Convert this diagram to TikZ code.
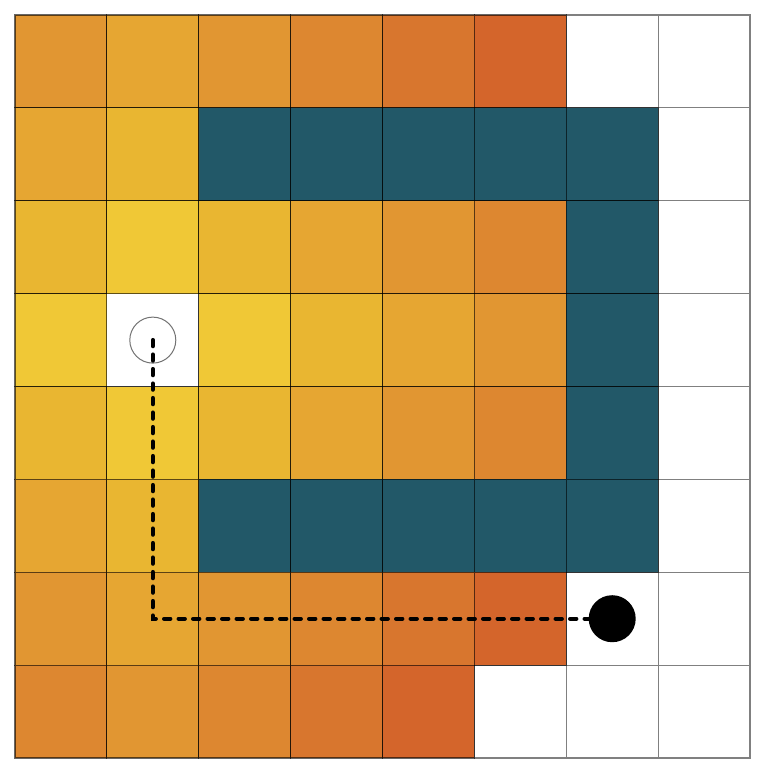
\documentclass[tikz,border=0pt]{standalone}
\usepackage{tikz}
\definecolor{c1}{HTML}{F0C836}
\definecolor{c2}{HTML}{E9B631}
\definecolor{c3}{HTML}{E6A632}
\definecolor{c4}{HTML}{E19632}
\definecolor{c5}{HTML}{DD8730}
\definecolor{c6}{HTML}{D8762E}
\definecolor{c7}{HTML}{D4652B}
\definecolor{cT}{HTML}{225868}
\tikzset{
  whitecell/.style={fill=white, draw=black!50, line width=1.2pt},
  colcell/.style={draw=black, draw opacity=0.6, line width=1.2pt},
  startmark/.style={circle, draw=black!55, line width=1pt, minimum size=46pt, inner sep=0pt},
  goalmark/.style={circle, fill=black, minimum size=47pt, inner sep=0pt},
  pathline/.style={line width=4.4pt, dash pattern=on 6pt off 8.5pt, line cap=round}
}
\begin{document}
\begin{tikzpicture}[x=1pt, y=-1pt]
\useasboundingbox (0,0) rectangle (771,769);
\def\cw{91.875}
\def\ch{92.875}
% pass 1: white cells
\foreach \vals [count=\row from 0] in {
  {4,3,4,5,6,7,W,W},
  {3,2,T,T,T,T,T,W},
  {2,1,2,3,4,5,T,W},
  {1,W,1,2,3,4,T,W},
  {2,1,2,3,4,5,T,W},
  {3,2,T,T,T,T,T,W},
  {4,3,4,5,6,7,W,W},
  {5,4,5,6,7,W,W,W}} {
  \foreach \v [count=\col from 0] in \vals {
    \pgfmathsetmacro\xa{15+\col*\cw}
    \pgfmathsetmacro\ya{15+\row*\ch}
    \if\v W
      \path[whitecell] (\xa,\ya) rectangle ++(\cw,\ch);
    \fi
  }
}
% pass 2: coloured cells
\foreach \vals [count=\row from 0] in {
  {4,3,4,5,6,7,W,W},
  {3,2,T,T,T,T,T,W},
  {2,1,2,3,4,5,T,W},
  {1,W,1,2,3,4,T,W},
  {2,1,2,3,4,5,T,W},
  {3,2,T,T,T,T,T,W},
  {4,3,4,5,6,7,W,W},
  {5,4,5,6,7,W,W,W}} {
  \foreach \v [count=\col from 0] in \vals {
    \pgfmathsetmacro\xa{15+\col*\cw}
    \pgfmathsetmacro\ya{15+\row*\ch}
    \if\v W\else
      \path[colcell, fill=c\v] (\xa,\ya) rectangle ++(\cw,\ch);
    \fi
  }
}
\node[startmark] (s) at (152.8,340.1) {};
\node[goalmark] (g) at (612.2,618.7) {};
\draw[pathline] (s.center) |- (g);
\end{tikzpicture}
\end{document}
